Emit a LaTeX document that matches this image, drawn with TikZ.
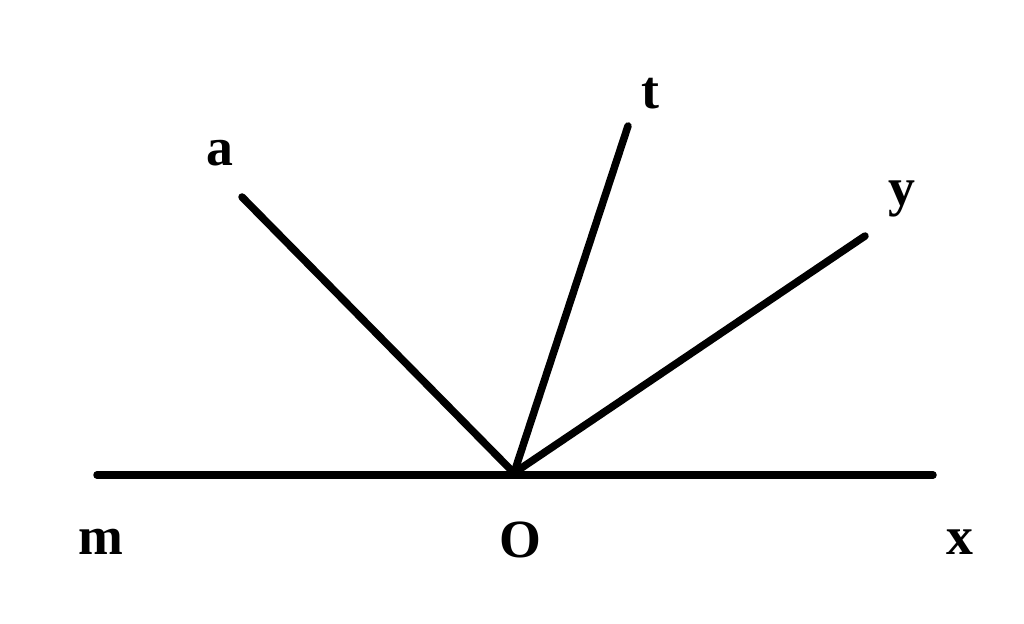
\documentclass[tikz,border=0pt]{standalone}
\usepackage{fontspec}
\setmainfont{Liberation Serif}
\begin{document}
\begin{tikzpicture}[x=1bp,y=-1bp,
  ray/.style={line width=7.5bp,line cap=round},
  lbl/.style={font=\fontsize{54}{58}\selectfont\bfseries,inner sep=0pt}]
\useasboundingbox (0,0) rectangle (1024,624);
\fill[white] (0,0) rectangle (1024,624);
\coordinate (O) at (514,473);
\coordinate (M) at (97,475);
\coordinate (X) at (933,475);
\coordinate (A) at (242,197);
\coordinate (T) at (628,126);
\coordinate (Y) at (865,236);
\draw[ray] (M) -- (X);
\draw[ray] (O) -- (A);
\draw[ray] (O) -- (T);
\draw[ray] (O) -- (Y);
\node[lbl] (la) at (220,153) {a};
\node[lbl] (lt) at (650,94) {t};
\node[lbl] (ly) at (902,199) {y};
\node[lbl] (lm) at (101,542) {m};
\node[lbl] (lO) at (520,540) {O};
\node[lbl] (lx) at (960,542) {x};
\end{tikzpicture}
\end{document}
